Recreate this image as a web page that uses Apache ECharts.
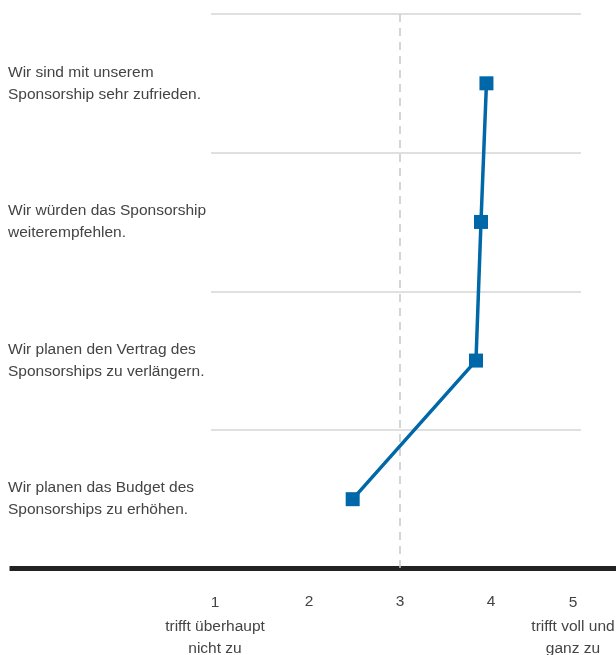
<!DOCTYPE html>
<html>
<head>
<meta charset="utf-8">
<script src="https://cdn.jsdelivr.net/npm/echarts@6/dist/echarts.min.js"></script>
<style>html,body{margin:0;padding:0;background:#fff;}#c{width:616px;height:655px;}</style>
</head>
<body>
<div id="c"></div>
<script>
const categories = [
  'Wir sind mit unserem\nSponsorship sehr zufrieden.',
  'Wir würden das Sponsorship\nweiterempfehlen.',
  'Wir planen den Vertrag des\nSponsorships zu verlängern.',
  'Wir planen das Budget des\nSponsorships zu erhöhen.'
];
const values = [3.95, 3.89, 3.835, 2.48];
const tickValues = [1, 2, 3, 4, 5];
const tickLabels = {
  1: '1\ntrifft überhaupt\nnicht zu',
  2: '2',
  3: '3',
  4: '4',
  5: '5\ntrifft voll und\nganz zu'
};
const midpoint = 3;

const FONT = 'Liberation Sans';
const FS = 15.5;
const TXT = '#444';
const chart = echarts.init(document.getElementById('c'), null, {renderer: 'canvas'});
chart.setOption({
  animation: false,
  backgroundColor: '#fff',
  grid: [
    {left: 218, right: 34, top: 14, bottom: 86.5, outerBoundsMode: 'none', containLabel: false},
    {left: 211, right: 35, top: 14, bottom: 86.5, outerBoundsMode: 'none', containLabel: false},
    {left: 9.5, right: 0, top: 14, bottom: 86.5, outerBoundsMode: 'none', containLabel: false}
  ],
  xAxis: [
    {
      type: 'value', gridIndex: 0, min: tickValues[0], max: tickValues[tickValues.length - 1], interval: 1,
      axisLine: {show: false}, axisTick: {show: false}, splitLine: {show: false},
      axisLabel: {
        margin: 21,
        formatter: function (v) {
          const t = tickLabels[v] || String(v);
          const key = v === 1 ? 'l' : (v === 5 ? 'r' : 'n');
          return t.split('\n').map((s, i) => '{' + key + (i === 0 ? 'f' : '') + '|' + s + '}').join('\n');
        },
        rich: {
          n: {fontFamily: FONT, fontSize: FS, color: TXT, lineHeight: 22},
          nf: {fontFamily: FONT, fontSize: FS, color: TXT, lineHeight: 24},
          l: {fontFamily: FONT, fontSize: FS, color: TXT, lineHeight: 22, padding: [0, 6, 0, 0]},
          lf: {fontFamily: FONT, fontSize: FS, color: TXT, lineHeight: 26, padding: [0, 6, 0, 0]},
          r: {fontFamily: FONT, fontSize: FS, color: TXT, lineHeight: 22, padding: [0, 18, 0, 0]},
          rf: {fontFamily: FONT, fontSize: FS, color: TXT, lineHeight: 26, padding: [0, 18, 0, 0]}
        }
      }
    },
    {type: 'value', gridIndex: 1, show: false},
    {
      type: 'value', gridIndex: 2,
      axisLine: {show: true, lineStyle: {color: '#222', width: 5, cap: 'butt'}},
      axisTick: {show: false}, axisLabel: {show: false}, splitLine: {show: false}
    }
  ],
  yAxis: [
    {
      type: 'category', gridIndex: 0, data: categories, inverse: true,
      axisLine: {show: false}, axisTick: {show: false}, splitLine: {show: false},
      axisLabel: {
        align: 'left', margin: 210,
        fontFamily: FONT, fontSize: FS, color: TXT, lineHeight: 22,
        padding: [0, 0, 18, 0]
      }
    },
    {
      type: 'category', gridIndex: 1, data: categories, inverse: true,
      axisLine: {show: false}, axisTick: {show: false}, axisLabel: {show: false},
      splitLine: {show: true, lineStyle: {color: '#d6d6d6', width: 1.5}}
    },
    {type: 'category', gridIndex: 2, data: categories, inverse: true, show: false}
  ],
  series: [
    {
      type: 'line', xAxisIndex: 0, yAxisIndex: 0,
      data: values,
      symbol: 'rect', symbolSize: 14,
      lineStyle: {color: '#0067a8', width: 3.5},
      itemStyle: {color: '#0067a8'},
      markLine: {
        silent: true, symbol: 'none', label: {show: false},
        lineStyle: {color: '#c8c8c8', width: 1.5, type: [8, 6]},
        data: [{xAxis: midpoint}],
        z: 1
      },
      z: 5
    }
  ]
});
</script>
</body>
</html>
